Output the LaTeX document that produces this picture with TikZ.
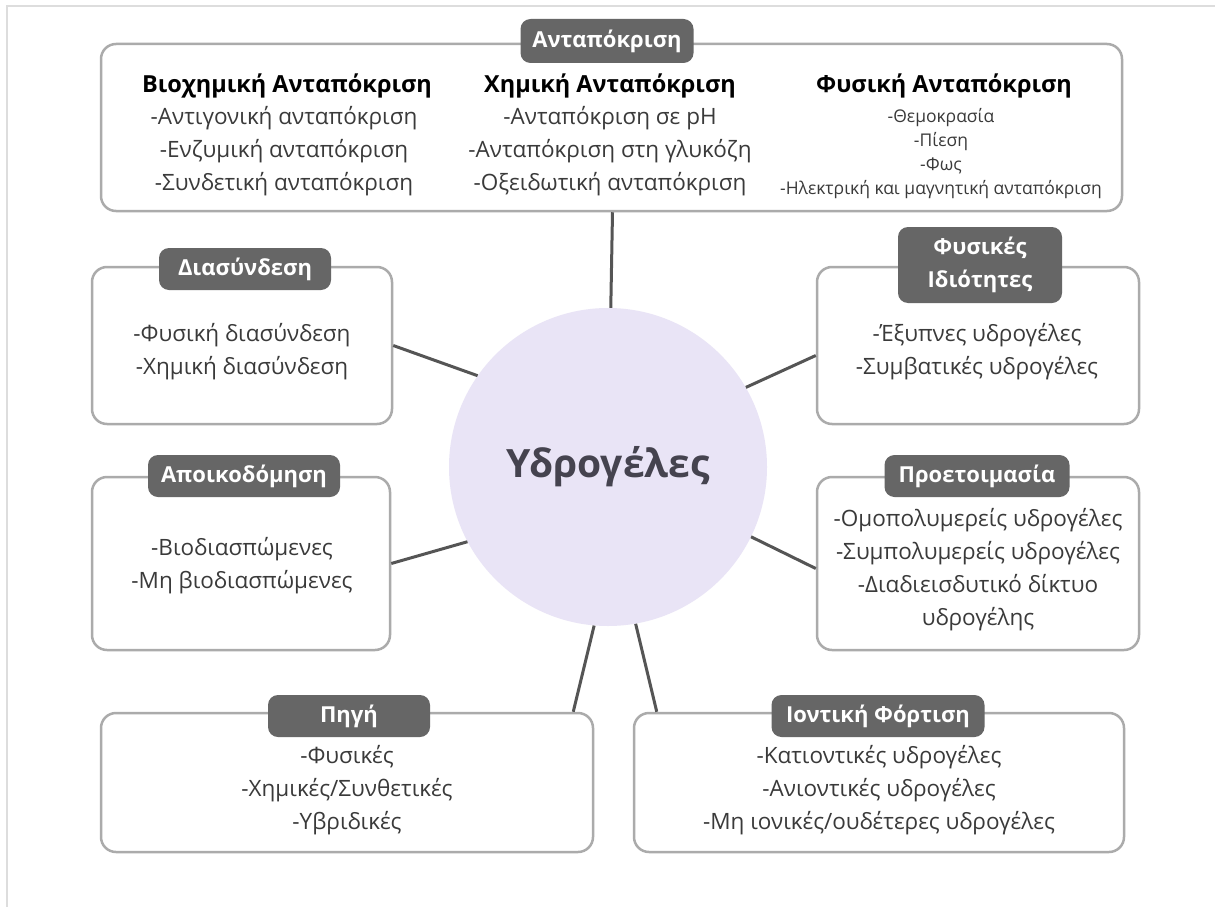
\documentclass[tikz,border=0pt]{standalone}
\usepackage{fontspec}
\setmainfont{Open Sans}
\usetikzlibrary{calc}
\definecolor{boxline}{HTML}{ABABAB}
\definecolor{pillfill}{HTML}{666666}
\definecolor{hubfill}{HTML}{E9E4F6}
\definecolor{conn}{HTML}{555555}
\definecolor{txt}{HTML}{3A3A3A}
\definecolor{framecol}{HTML}{DDDDDD}
\definecolor{hubtxt}{HTML}{45434F}
\tikzset{
  panel/.style={draw=boxline, line width=2.5pt, rounded corners=15pt, fill=white, inner sep=0pt},
  pill/.style={fill=pillfill, rounded corners=10pt, text=white, font=\fontsize{22}{33}\selectfont\bfseries, inner sep=0pt, align=center},
  body/.style={text=txt, font=\fontsize{22.5}{33}\selectfont, align=center, inner sep=0pt},
  smallbody/.style={text=txt, font=\fontsize{17.5}{24}\selectfont, align=center, inner sep=0pt},
  head/.style={text=black, font=\fontsize{23.5}{26}\selectfont\bfseries, align=center, inner sep=0pt},
  link/.style={draw=conn, line width=3pt},
}
\begin{document}
\begin{tikzpicture}[x=1pt,y=-1pt]
\useasboundingbox (0,0) rectangle (1215,907);
\fill[white] (0,0) rectangle (1215,907);
\draw[framecol, line width=2pt] (7,907) -- (7,6) -- (1215,6);

% hub
\node[circle, fill=hubfill, minimum size=318pt, inner sep=0pt, text=hubtxt, font=\fontsize{39}{42}\selectfont\bfseries] (hub) at (608,467) {Υδρογέλες};

% boxes
\node[panel, minimum width=1021pt, minimum height=167pt] (resp) at (611.5,127.5) {};
\node[panel, minimum width=300pt, minimum height=157pt] (dias) at (242,345.5) {};
\node[panel, minimum width=322pt, minimum height=157pt] (fysid) at (978,345.5) {};
\node[panel, minimum width=298pt, minimum height=173pt] (apoik) at (241,563.5) {};
\node[panel, minimum width=322pt, minimum height=173pt] (proet) at (978,563.5) {};
\node[panel, minimum width=492pt, minimum height=139pt] (pigi) at (347,782.5) {};
\node[panel, minimum width=490pt, minimum height=139pt] (ion) at (879,782.5) {};

% connectors
\coordinate (e1) at ([xshift=1pt]resp.south);
\coordinate (e2) at (dias.east);
\coordinate (e3) at ([yshift=-10pt]fysid.west);
\coordinate (e4) at (apoik.east);
\coordinate (e5) at ([yshift=-5pt]proet.west);
\coordinate (e6) at ([xshift=-21pt]pigi.north east);
\coordinate (e7) at ([xshift=24pt]ion.north west);
\draw[link] (hub.89) -- (e1);
\draw[link] (hub.145) -- (e2);
\draw[link] (hub.30) -- (e3);
\draw[link] (hub.208) -- (e4);
\draw[link] (hub.-26) -- (e5);
\draw[link] (hub.265) -- (e6);
\draw[link] (hub.-80) -- (e7);

% pills
\node[pill, minimum width=173pt, minimum height=44pt] (presp) at (607,41) {Ανταπόκριση};
\node[pill, minimum width=172pt, minimum height=42pt] (pdias) at (245,269) {Διασύνδεση};
\node[pill, minimum width=164pt, minimum height=76pt] (pfys) at (980,265) {Φυσικές\\Ιδιότητες};
\node[pill, minimum width=192pt, minimum height=42pt] (papo) at (244,476) {Αποικοδόμηση};
\node[pill, minimum width=185pt, minimum height=42pt] (ppro) at (977,476) {Προετοιμασία};
\node[pill, minimum width=162pt, minimum height=42pt] (ppig) at (349,716) {Πηγή};
\node[pill, minimum width=213pt, minimum height=42pt] (pion) at (878,716) {Ιοντική Φόρτιση};

% top box texts
\node[head] (h1) at (287,86) {Βιοχημική Ανταπόκριση};
\node[body] (b1) at (284,151.5) {-Αντιγονική ανταπόκριση\\-Ενζυμική ανταπόκριση\\-Συνδετική ανταπόκριση};
\node[head] (h2) at (610,86) {Χημική Ανταπόκριση};
\node[body] (b2) at (610,151.5) {-Ανταπόκριση σε pH\\-Ανταπόκριση στη γλυκόζη\\-Οξειδωτική ανταπόκριση};
\node[head] (h3) at (944,86) {Φυσική Ανταπόκριση};
\node[smallbody] (b3) at (941,154) {-Θεμοκρασία\\-Πίεση\\-Φως\\-Ηλεκτρική και μαγνητική ανταπόκριση};

% other texts
\node[body] (t2) at (242,352) {-Φυσική διασύνδεση\\-Χημική διασύνδεση};
\node[body] (t3) at (977,352) {-Έξυπνες υδρογέλες\\-Συμβατικές υδρογέλες};
\node[body] (t4) at (242,566) {-Βιοδιασπώμενες\\-Μη βιοδιασπώμενες};
\node[body] (t5) at (978,570) {-Ομοπολυμερείς υδρογέλες\\-Συμπολυμερείς υδρογέλες\\-Διαδιεισδυτικό δίκτυο\\υδρογέλης};
\node[body] (t6) at (347,790) {-Φυσικές\\-Χημικές/Συνθετικές\\-Υβριδικές};
\node[body] (t7) at (879,790) {-Κατιοντικές υδρογέλες\\-Ανιοντικές υδρογέλες\\-Μη ιονικές/ουδέτερες υδρογέλες};
\end{tikzpicture}
\end{document}
